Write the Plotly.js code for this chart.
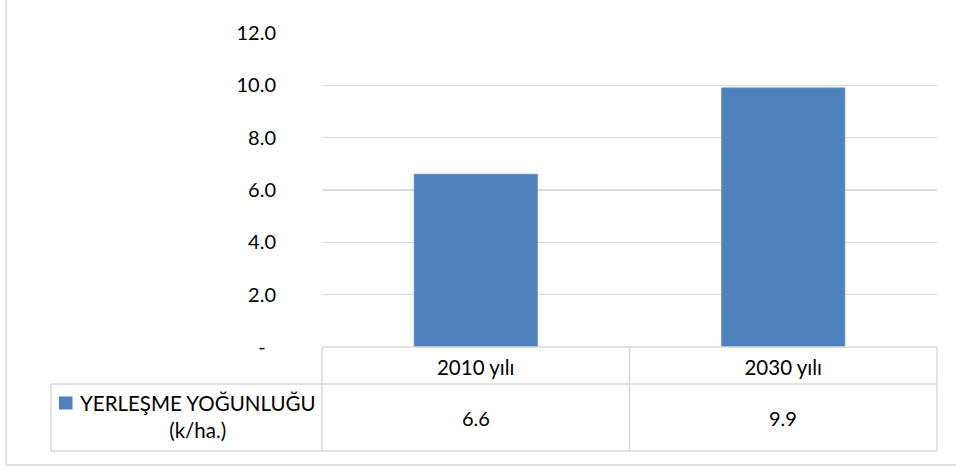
<!DOCTYPE html>
<html><head><meta charset="utf-8">
<script src="https://cdn.plot.ly/plotly-3.0.1.min.js"></script>
<style>html,body{margin:0;padding:0;background:#fff}</style>
</head><body><div id="chart" style="width:956px;height:466px"></div>
<script>
// ---- data ----
const categories = ['2010 yılı', '2030 yılı'];
const values = [6.6, 9.9];
const seriesName = 'YERLEŞME YOĞUNLUĞU (k/ha.)';
const yTickVals = [0, 2, 4, 6, 8, 10, 12];
const yTickText = ['-\u00a0\u00a0', '2.0', '4.0', '6.0', '8.0', '10.0', '12.0'];

// ---- layout helpers (pixel -> paper) ----
const W = 956, H = 466, L = 322, R = 937, T = 33, B = 347;
const px = x => (x - L) / (R - L);
const py = y => (B - y) / (B - T);
const FONT = 'Lato, "Open Sans", sans-serif';
const GRID = '#d9d9d9';
const BLUE = '#4f81bd';

function hline(y, x0, x1, w) {
  return {type: 'line', xref: 'paper', yref: 'paper', x0: px(x0), x1: px(x1), y0: py(y), y1: py(y),
          line: {color: GRID, width: w || 1.5}};
}
function vline(x, y0, y1, w) {
  return {type: 'line', xref: 'paper', yref: 'paper', x0: px(x), x1: px(x), y0: py(y0), y1: py(y1),
          line: {color: GRID, width: w || 1.5}};
}

const rowTop = 384, rowBot = 451, tableLeft = 51, mid = (L + R) / 2;

const shapes = [
  hline(B, L, R), hline(rowTop, tableLeft, R), hline(rowBot, tableLeft, R),
  vline(L, B, rowBot), vline(mid, B, rowBot), vline(R, B, rowBot), vline(tableLeft, rowTop, rowBot),
  // chart-area frame
  vline(6, -5, 465), hline(465, 6, 970),
  // legend swatch
  {type: 'rect', xref: 'paper', yref: 'paper', x0: px(59), x1: px(72.5), y0: py(409.5), y1: py(396.5),
   fillcolor: BLUE, line: {width: 0}}
];

const annotations = categories.map((c, i) => ({
  xref: 'x', yref: 'paper', x: c, y: py((rowTop + rowBot) / 2),
  text: values[i].toFixed(1), showarrow: false, xanchor: 'center', yanchor: 'middle',
  font: {family: FONT, size: 20, color: '#000'}
}));
annotations.push({
  xref: 'paper', yref: 'paper', x: px(78), y: py((rowTop + rowBot) / 2 - 1), xanchor: 'left', yanchor: 'middle',
  text: seriesName.replace(' (', '<br>('), align: 'center', showarrow: false,
  font: {family: FONT, size: 20.5, color: '#000'}
});

const trace = {
  type: 'bar', x: categories, y: values, name: seriesName,
  marker: {color: BLUE, line: {color: '#5a8cc8', width: 1}},
  hoverinfo: 'skip'
};

const layout = {
  width: W, height: H,
  margin: {l: L, r: W - R, t: T, b: H - B, pad: 0},
  paper_bgcolor: '#fff', plot_bgcolor: '#fff',
  showlegend: false, bargap: 0.6,
  font: {family: FONT, size: 20, color: '#000'},
  xaxis: {type: 'category', showgrid: false, zeroline: false, showline: false, ticks: '',
          tickfont: {family: FONT, size: 20.5, color: '#000'}, ticklabelstandoff: 6, fixedrange: true},
  yaxis: {range: [0, 12], tickvals: yTickVals, ticktext: yTickText, showgrid: true, gridcolor: GRID, gridwidth: 1.5,
          zeroline: false, showline: false, ticks: '', ticklabelstandoff: 45,
          tickfont: {family: FONT, size: 20, color: '#000'}, fixedrange: true},
  shapes: shapes, annotations: annotations
};

Plotly.newPlot('chart', [trace], layout, {displayModeBar: false, staticPlot: true});
</script>
</body></html>
